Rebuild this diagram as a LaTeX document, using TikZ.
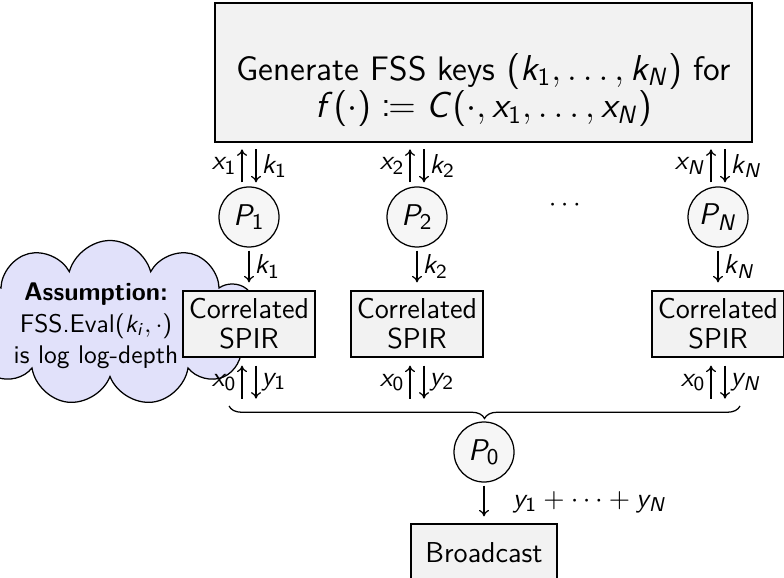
\documentclass[tikz,border=0pt]{standalone}
\usepackage{amsmath,mathtools}
\usetikzlibrary{shapes.symbols,decorations.pathreplacing,arrows.meta}

% Sans-serif math, slide style: upright sans for digits and operators,
% slanted sans for letters.
\SetSymbolFont{operators}{normal}{OT1}{cmss}{m}{n}
\DeclareSymbolFont{sfletters}{OT1}{cmss}{m}{sl}
\newcommand\sfmathletter[1]{\DeclareMathSymbol{#1}{\mathalpha}{sfletters}{`#1}}
\makeatletter
\@tfor\sf@ch:=abcdefghijklmnopqrstuvwxyzABCDEFGHIJKLMNOPQRSTUVWXYZ\do{%
  \expandafter\sfmathletter\sf@ch}
\makeatother

\definecolor{boxgray}{RGB}{242,242,242}
\definecolor{partygray}{RGB}{246,246,246}
\definecolor{cloudblue}{RGB}{225,225,250}

\begin{document}
\begin{tikzpicture}[x=0.4pt,y=-0.4pt,
  font=\sffamily\fontsize{11}{12}\selectfont,
  box/.style={draw, fill=boxgray, inner sep=0pt, align=center, line width=0.5pt,
    font=\sffamily\fontsize{11.5}{12}\selectfont},
  party/.style={circle, draw, fill=partygray, minimum size=24pt, inner sep=0pt,
    line width=0.5pt, font=\sffamily\fontsize{13}{15}\selectfont},
  flow/.style={-{To[length=2.6pt,width=4pt]}, line width=0.5pt},
  lbl/.style={inner sep=2pt, font=\sffamily\fontsize{11}{12}\selectfont}]
\useasboundingbox (0,0) rectangle (784,578);

% assumption cloud (behind the first SPIR box)
\node[cloud, cloud puffs=11, cloud ignores aspect, draw, fill=cloudblue,
  line width=0.5pt, minimum width=120pt, minimum height=66pt] (cloud) at (110,323) {};
\node[align=center, font=\sffamily\fontsize{10.2}{12.5}\selectfont] (assume) at (96,326)
  {\textbf{Assumption:}\\FSS.Eval$(k_i,\cdot)$\\is log log-depth};

% key generation
\node[box, minimum width=214.8pt, minimum height=55.6pt] (gen) at (483.5,72.5) {};
\node[align=center, font=\sffamily\fontsize{13.6}{15}\selectfont] (gentext) at (483.5,90)
  {Generate FSS keys $(k_1,\ldots,k_N)$ for\\$f(\cdot)\coloneqq C(\cdot,x_1,\ldots,x_N)$};

% parties
\node[party] (p1) at (249,217) {$P_1$};
\node[party] (p2) at (417,217) {$P_2$};
\node[party] (pn) at (718,217) {$P_N$};
\node (dots) at (567,205) {$\cdots$};
\node[party] (p0) at (484,452) {$P_0$};

% correlated SPIR boxes
\node[box, minimum width=52.8pt, minimum height=26.4pt] (s1) at (249,324) {Correlated\\SPIR};
\node[box, minimum width=52.8pt, minimum height=26.4pt] (s2) at (417,324) {Correlated\\SPIR};
\node[box, minimum width=52.8pt, minimum height=26.4pt] (sn) at (718,324) {Correlated\\SPIR};

% broadcast
\node[box, minimum width=58.4pt, minimum height=23.2pt] (bc) at (484,553) {Broadcast};

% inputs up, keys down
\draw[flow] (p1.north) ++(-7,-4) -- ++(0,-33) node[midway,left,lbl] (lx1) {$x_1$};
\draw[flow] (p1.north) ++(7,-37) -- ++(0,33) node[midway,right,lbl] (lk1) {$k_1$};
\draw[flow] (p2.north) ++(-7,-4) -- ++(0,-33) node[midway,left,lbl] (lx2) {$x_2$};
\draw[flow] (p2.north) ++(7,-37) -- ++(0,33) node[midway,right,lbl] (lk2) {$k_2$};
\draw[flow] (pn.north) ++(-7,-4) -- ++(0,-33) node[midway,left,lbl] (lxn) {$x_N$};
\draw[flow] (pn.north) ++(7,-37) -- ++(0,33) node[midway,right,lbl] (lkn) {$k_N$};

% keys into SPIR
\draw[flow] ([yshift=-1.2pt]p1.south) -- ([yshift=3.2pt]s1.north) node[midway,right,lbl] (mk1) {$k_1$};
\draw[flow] ([yshift=-1.2pt]p2.south) -- ([yshift=3.2pt]s2.north) node[midway,right,lbl] (mk2) {$k_2$};
\draw[flow] ([yshift=-1.2pt]pn.south) -- ([yshift=3.2pt]sn.north) node[midway,right,lbl] (mkn) {$k_N$};

% SPIR queries and answers
\draw[flow] (s1.south) ++(-7,41) -- ++(0,-33) node[midway,left,lbl] (qx1) {$x_0$};
\draw[flow] (s1.south) ++(7,8) -- ++(0,33) node[midway,right,lbl] (qy1) {$y_1$};
\draw[flow] (s2.south) ++(-7,41) -- ++(0,-33) node[midway,left,lbl] (qx2) {$x_0$};
\draw[flow] (s2.south) ++(7,8) -- ++(0,33) node[midway,right,lbl] (qy2) {$y_2$};
\draw[flow] (sn.south) ++(-7,41) -- ++(0,-33) node[midway,left,lbl] (qxn) {$x_0$};
\draw[flow] (sn.south) ++(7,8) -- ++(0,33) node[midway,right,lbl] (qyn) {$y_N$};

% collect answers at P0
\coordinate (bl) at (229,406);
\coordinate (br) at (740,406);
\draw[line width=0.5pt, decorate, decoration={brace, mirror, amplitude=5pt}] (bl) -- (br);

\draw[flow] ([yshift=-1.2pt]p0.south) -- ([yshift=2.8pt]bc.north);
\node[anchor=west] (sum) at (504,502) {$y_1+\cdots+y_N$};
\end{tikzpicture}
\end{document}
